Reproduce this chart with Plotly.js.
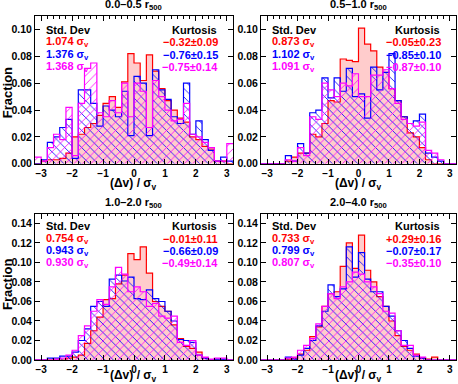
<!DOCTYPE html>
<html>
<head>
<meta charset="utf-8">
<script src="https://cdn.plot.ly/plotly-3.0.1.min.js"></script>
<style>
  html, body { margin: 0; padding: 0; background: #fff; }
  #chart { width: 458px; height: 384px; }
</style>
</head>
<body>
<div id="chart"></div>
<script>
// bin edges of the histograms (width 0.2)
const binEdges = [-3.2, -3.0, -2.8, -2.6, -2.4, -2.2, -2.0, -1.8, -1.6, -1.4, -1.2, -1.0, -0.8, -0.6, -0.4, -0.2, 0.0,
                  0.2, 0.4, 0.6, 0.8, 1.0, 1.2, 1.4, 1.6, 1.8, 2.0, 2.2, 2.4, 2.6, 2.8, 3.0, 3.2];

// panel titles and the numbers written inside each panel
const panelTitles = ["0.0–0.5 r<sub>500</sub>", "0.5–1.0 r<sub>500</sub>", "1.0–2.0 r<sub>500</sub>", "2.0–4.0 r<sub>500</sub>"];
const stdDevs = [["1.074", "1.376", "1.368"], ["0.873", "1.102", "1.091"], ["0.754", "0.943", "0.930"], ["0.733", "0.799", "0.807"]];
const kurtosis = [["−0.32±0.09", "−0.76±0.15", "−0.75±0.14"], ["−0.05±0.23", "−0.85±0.10", "−0.87±0.10"],
                  ["−0.01±0.11", "−0.66±0.09", "−0.49±0.14"], ["+0.29±0.16", "−0.07±0.17", "−0.35±0.10"]];

// fractions per bin, panel 1 (0.0-0.5 r500)
const p1Red  = [0, 0.002, 0.003, 0.003, 0.004, 0.008, 0.020, 0.022, 0.027, 0.030, 0.036, 0.045, 0.050, 0.042, 0.061, 0.082,
                0.075, 0.062, 0.081, 0.069, 0.056, 0.047, 0.040, 0.034, 0.031, 0.020, 0.018, 0.013, 0.011, 0.002, 0.002, 0];
const p1Blue = [0, 0.003, 0.016, 0.020, 0.027, 0.033, 0.004, 0.055, 0.055, 0.045, 0.028, 0.043, 0.040, 0.035, 0.054, 0.021,
                0.065, 0.060, 0.021, 0.070, 0.055, 0.048, 0.035, 0.030, 0.060, 0.022, 0.032, 0.018, 0.010, 0.002, 0.005, 0.002];
const p1Mag  = [0.005, 0.002, 0.012, 0.022, 0.018, 0.042, 0.006, 0.045, 0.071, 0.075, 0.038, 0.035, 0.047, 0.038, 0.060, 0.035,
                0.060, 0.054, 0.027, 0.062, 0.050, 0.040, 0.032, 0.033, 0.045, 0.022, 0.020, 0.016, 0.012, 0.002, 0.002, 0.015];

// panel 2 (0.5-1.0 r500)
const p2Red  = [0, 0, 0, 0, 0.002, 0.005, 0.008, 0.008, 0.022, 0.020, 0.030, 0.047, 0.046, 0.078, 0.077, 0.076,
                0.101, 0.089, 0.084, 0.072, 0.068, 0.056, 0.047, 0.035, 0.023, 0.020, 0.012, 0.003, 0, 0, 0, 0];
const p2Blue = [0, 0, 0, 0, 0.006, 0.002, 0.015, 0.008, 0.038, 0.040, 0.064, 0.049, 0.064, 0.054, 0.071, 0.050,
                0.052, 0.034, 0.072, 0.055, 0.068, 0.082, 0.047, 0.035, 0.030, 0.032, 0.037, 0.008, 0.005, 0.002, 0, 0];
const p2Mag  = [0, 0, 0, 0, 0.003, 0.002, 0.012, 0.006, 0.035, 0.033, 0.060, 0.055, 0.050, 0.060, 0.058, 0.067,
                0.050, 0.050, 0.066, 0.066, 0.070, 0.056, 0.045, 0.033, 0.030, 0.028, 0.031, 0.010, 0.008, 0.003, 0, 0];

// panel 3 (1.0-2.0 r500)
const p3Red  = [0, 0, 0, 0, 0, 0.002, 0.003, 0.005, 0.017, 0.030, 0.044, 0.062, 0.063, 0.078, 0.087, 0.109,
                0.103, 0.116, 0.089, 0.060, 0.055, 0.050, 0.036, 0.022, 0.014, 0.012, 0.008, 0.002, 0, 0, 0, 0];
const p3Blue = [0, 0, 0.002, 0.002, 0.004, 0.004, 0.008, 0.020, 0.032, 0.055, 0.060, 0.055, 0.083, 0.087, 0.081, 0.085,
                0.063, 0.062, 0.072, 0.063, 0.060, 0.050, 0.040, 0.021, 0.020, 0.018, 0.005, 0.002, 0, 0.001, 0.001, 0];
const p3Mag  = [0, 0, 0, 0.001, 0.002, 0.005, 0.010, 0.025, 0.035, 0.050, 0.062, 0.057, 0.075, 0.095, 0.088, 0.070,
                0.075, 0.070, 0.055, 0.058, 0.045, 0.043, 0.045, 0.018, 0.015, 0.020, 0.005, 0.003, 0.001, 0.002, 0.002, 0];

// panel 4 (2.0-4.0 r500)
const p4Red  = [0, 0, 0, 0, 0.001, 0.002, 0.006, 0.010, 0.024, 0.034, 0.055, 0.068, 0.070, 0.096, 0.120, 0.094,
                0.128, 0.092, 0.080, 0.065, 0.055, 0.040, 0.025, 0.014, 0.010, 0.006, 0.002, 0.001, 0.003, 0, 0, 0];
const p4Blue = [0, 0, 0, 0, 0.003, 0.001, 0.005, 0.012, 0.020, 0.035, 0.050, 0.077, 0.065, 0.073, 0.116, 0.085,
                0.110, 0.083, 0.070, 0.070, 0.055, 0.045, 0.030, 0.020, 0.012, 0.004, 0.002, 0, 0, 0, 0, 0];
const p4Mag  = [0, 0, 0, 0, 0.002, 0.003, 0.010, 0.015, 0.022, 0.037, 0.055, 0.068, 0.063, 0.075, 0.080, 0.090,
                0.088, 0.080, 0.075, 0.068, 0.050, 0.048, 0.030, 0.015, 0.015, 0.005, 0.003, 0, 0, 0, 0, 0];

const panels = [[p1Red, p1Blue, p1Mag], [p2Red, p2Blue, p2Mag], [p3Red, p3Blue, p3Mag], [p4Red, p4Blue, p4Mag]];
const colors = ["#ff0000", "#0000ff", "#ff00ff"];

const FONT = "Liberation Sans, Arial, Helvetica, sans-serif";

function stepY(vals) {
  return vals.concat([vals[vals.length - 1]]);
}

let data = [];
panels.forEach(function (series, p) {
  let xa = "x" + (p + 1), ya = "y" + (p + 1);
  series.forEach(function (vals, s) {
    let tr = {
      type: "scatter", x: binEdges, y: stepY(vals),
      mode: "lines", line: {shape: "hv", color: colors[s], width: 1.2},
      fill: "tozeroy", xaxis: xa, yaxis: ya,
      showlegend: false, hoverinfo: "skip"
    };
    if (s === 0) {
      tr.fillcolor = "rgba(255,0,0,0.2)";
    } else {
      tr.fillcolor = "rgba(0,0,0,0)";
      tr.fillpattern = {shape: s === 1 ? "\\" : "/", fgcolor: colors[s], bgcolor: "rgba(0,0,0,0)",
                        size: 6, solidity: 0.15, fgopacity: 0.9};
    }
    data.push(tr);
  });
});

const xDom = [[0, 0.4703], [0.5368, 1], [0, 0.4703], [0.5368, 1]];
const yDom = [[0.5704, 1], [0.5704, 1], [0, 0.4253], [0, 0.4253]];
const yMax = [0.11, 0.11, 0.15, 0.15];
const yTicks = [[0, 0.02, 0.04, 0.06, 0.08, 0.10], [0, 0.02, 0.04, 0.06, 0.08, 0.10],
                [0, 0.02, 0.04, 0.06, 0.08, 0.10, 0.12, 0.14], [0, 0.02, 0.04, 0.06, 0.08, 0.10, 0.12, 0.14]];
// paper positions of panel titles and x titles
const titleY = [1.009, 1.009, 0.434, 0.434];
const xTitleY = [0.513, 0.513, -0.047, -0.047];
const fracY = [0.776, 0.219];

var layout = {
  width: 458, height: 384,
  margin: {l: 35, r: 2, t: 16, b: 23.5, pad: 0},
  paper_bgcolor: "#fff", plot_bgcolor: "#fff",
  font: {family: FONT, size: 11, color: "#000"},
  annotations: []
};

for (let p = 0; p < 4; p++) {
  let n = p + 1;
  let xMid = (xDom[p][0] + xDom[p][1]) / 2;
  layout["xaxis" + n] = {
    domain: xDom[p], anchor: "y" + n, range: [-3.2, 3.2],
    tickvals: [-3, -2, -1, 0, 1, 2, 3], ticktext: ["−3", "−2", "−1", "0", "1", "2", "3"],
    ticks: "inside", ticklen: 5, tickcolor: "#000", mirror: "ticks",
    minor: {dtick: 0.2, ticks: "inside", ticklen: 2.5, tickcolor: "#000", showgrid: false},
    showline: true, linecolor: "#000", linewidth: 1, showgrid: false, zeroline: false,
    tickfont: {family: FONT, size: 10, weight: "bold"}
  };
  layout["yaxis" + n] = {
    domain: yDom[p], anchor: "x" + n, range: [0, yMax[p]],
    tickvals: yTicks[p], tickformat: ".2f",
    ticks: "inside", ticklen: 5, tickcolor: "#000", mirror: "ticks",
    showline: true, linecolor: "#000", linewidth: 1, showgrid: false, zeroline: false,
    tickfont: {family: FONT, size: 10.5, weight: "bold"}
  };

  // panel title
  layout.annotations.push({
    xref: "paper", yref: "paper", x: xMid, y: titleY[p],
    xanchor: "center", yanchor: "bottom", showarrow: false, borderpad: 0,
    text: panelTitles[p], font: {family: FONT, size: 11, weight: "bold"}
  });
  // x axis title
  layout.annotations.push({
    xref: "paper", yref: "paper", x: xMid, y: xTitleY[p],
    xanchor: "center", yanchor: "middle", showarrow: false, borderpad: 0,
    text: "(Δv) / σ<sub>v</sub>", font: {family: FONT, size: 12, weight: "bold"}
  });

  // statistics text
  let rowY = p < 2 ? [0.905, 0.822, 0.738, 0.655] : [0.915, 0.83, 0.745, 0.66];
  layout.annotations.push({
    xref: "x" + n + " domain", yref: "y" + n + " domain", x: 0.045, y: rowY[0],
    xanchor: "left", yanchor: "middle", showarrow: false,
    text: "Std. Dev", font: {family: FONT, size: 11, weight: "bold", color: "#000"}
  });
  layout.annotations.push({
    xref: "x" + n + " domain", yref: "y" + n + " domain", x: 0.93, y: rowY[0],
    xanchor: "right", yanchor: "middle", showarrow: false,
    text: "Kurtosis", font: {family: FONT, size: 11, weight: "bold", color: "#000"}
  });
  for (let s = 0; s < 3; s++) {
    layout.annotations.push({
      xref: "x" + n + " domain", yref: "y" + n + " domain", x: 0.045, y: rowY[s + 1],
      xanchor: "left", yanchor: "middle", showarrow: false,
      text: stdDevs[p][s] + " σ<sub>v</sub>", font: {family: FONT, size: 11, weight: "bold", color: colors[s]}
    });
    layout.annotations.push({
      xref: "x" + n + " domain", yref: "y" + n + " domain", x: 0.935, y: rowY[s + 1],
      xanchor: "right", yanchor: "middle", showarrow: false,
      text: kurtosis[p][s], font: {family: FONT, size: 11, weight: "bold", color: colors[s]}
    });
  }
}

// y axis titles
fracY.forEach(function (yy) {
  layout.annotations.push({
    xref: "paper", yref: "paper", x: -0.066, y: yy, textangle: -90,
    xanchor: "center", yanchor: "middle", showarrow: false, borderpad: 0,
    text: "Fraction", font: {family: FONT, size: 13, weight: "bold"}
  });
});

Plotly.newPlot("chart", data, layout, {displayModeBar: false, staticPlot: true});
</script>
</body>
</html>
